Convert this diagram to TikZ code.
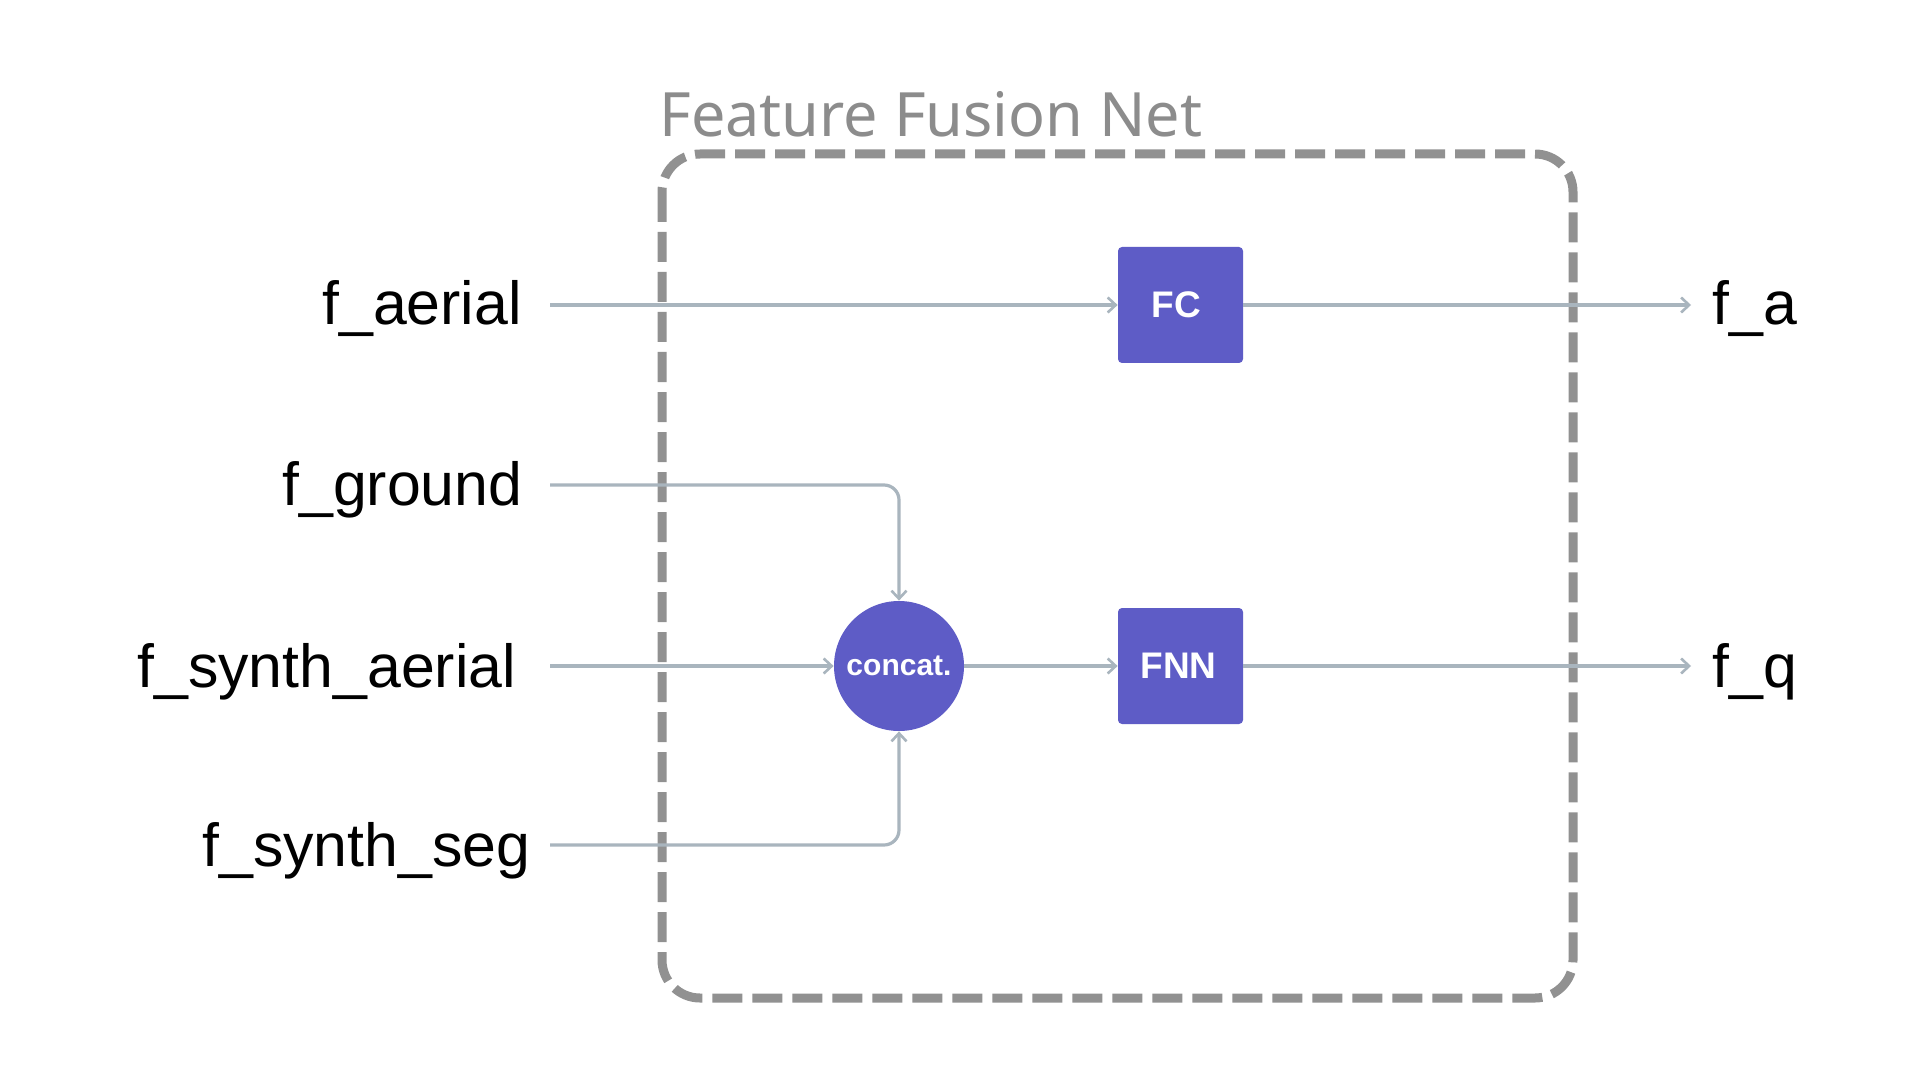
\documentclass[tikz,border=0pt]{standalone}
\usepackage{fontspec}
\setmainfont{Liberation Sans}
\newfontfamily\titlefont{Noto Sans}
\usetikzlibrary{arrows.meta}
\definecolor{blockfill}{HTML}{5E5CC6}
\definecolor{wire}{HTML}{A9B5BE}
\definecolor{frame}{HTML}{919191}
\definecolor{titlegray}{HTML}{8C8C8C}
\tikzset{
  label/.style={font=\fontsize{30.4}{36}\selectfont, text=black, inner sep=0pt},
  block/.style={fill=blockfill, rounded corners=2pt, minimum width=62.5pt, minimum height=58pt,
    text=white, font=\fontsize{18.5}{22}\selectfont\bfseries, inner sep=0pt},
  joiner/.style={circle, fill=blockfill, minimum size=65pt, inner sep=0pt,
    text=white, font=\fontsize{15}{18}\selectfont\bfseries},
  wireline/.style={draw=wire, line width=1.6pt, -{Straight Barb[length=4pt,width=7.5pt,line width=1.3pt]}},
  fusionframe/.style={draw=frame, line width=4.5pt, dash pattern=on 15pt off 5pt, rounded corners=19pt}
}
\begin{document}
\begin{tikzpicture}[x=0.5pt, y=-0.5pt]
  \path[use as bounding box, fill=white] (0,0) rectangle (1920,1080);

  % dashed frame of the fusion network and its caption
  \draw[fusionframe] (662,154) rectangle (1573,998);
  \node[anchor=base west, inner sep=0pt, text=titlegray] (title) at (659,137)
    {\resizebox{271.5pt}{!}{\titlefont Feature Fusion Net}};

  % inputs
  \node[label, anchor=base west] (fa) at (322,325) {f\_aerial};
  \node[label, anchor=base west] (fg) at (282,505) {f\_ground};
  \node[label, anchor=base west] (fsa) at (137,687) {f\_synth\_aerial};
  \node[label, anchor=base west] (fss) at (202,866) {f\_synth\_seg};

  \coordinate (ia) at (550,305);
  \coordinate (ig) at (550,485);
  \coordinate (isa) at (550,666);
  \coordinate (iss) at (550,845);

  % processing blocks
  \node[block] (fc) at (1180.5,305) {\hspace*{-4pt}FC};
  \node[block] (fnn) at (1180.5,666) {\hspace*{-2pt}FNN};
  \node[joiner] (cc) at (899,666) {concat.};

  % outputs
  \coordinate (oa) at (1691,305);
  \coordinate (oq) at (1691,666);
  \node[label, anchor=base west] (fA) at (1712,325) {f\_a};
  \node[label, anchor=base west] (fQ) at (1712,687) {f\_q};

  % connections
  \draw[wireline] (ia) -- (fc.west);
  \draw[wireline] (fc.east) -- (oa);
  \draw[wireline, rounded corners=7.5pt] (ig) -| (cc.north);
  \draw[wireline] (isa) -- (cc.west);
  \draw[wireline, rounded corners=7.5pt] (iss) -| (cc.south);
  \draw[wireline] (cc.east) -- (fnn.west);
  \draw[wireline] (fnn.east) -- (oq);
\end{tikzpicture}
\end{document}
